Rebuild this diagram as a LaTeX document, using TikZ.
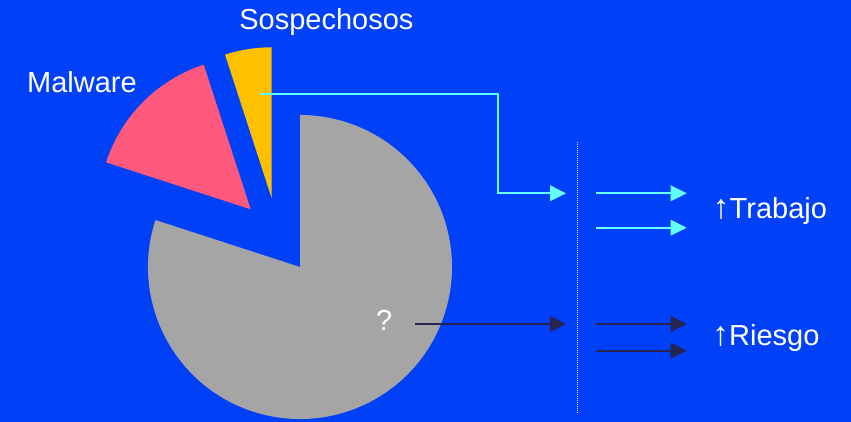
\documentclass[tikz,border=0pt]{standalone}
\usepackage{fontspec}
\setmainfont{Liberation Sans}
\usepackage{tikz}
\usetikzlibrary{calc}
\usetikzlibrary{arrows.meta}
\usetikzlibrary{positioning}
\usetikzlibrary{backgrounds}

\definecolor{bgblue}{RGB}{0,64,246}
\definecolor{slicegray}{RGB}{165,165,165}
\definecolor{slicepink}{RGB}{255,90,125}
\definecolor{sliceyellow}{RGB}{255,192,0}
\definecolor{lightcyan}{RGB}{102,255,255}
\definecolor{darknavy}{RGB}{38,36,80}

\tikzset{
    label text/.style={text=white, inner sep=0, anchor=base west,
        font=\fontsize{29}{34}\selectfont},
    flow/.style={line width=2.3pt, -{Triangle[length=16pt,width=15.5pt]}},
}

\begin{document}
\begin{tikzpicture}[x=1pt, y=1pt]
        \fill[bgblue] (0,0) rectangle (851,422);
        \useasboundingbox (0,0) rectangle (851,422);
        \begin{scope}
            \coordinate (c)   at (300,155);
            \coordinate (pk)  at (250.7,212.7);
            \coordinate (yw)  at (271.7,223.7);
            \fill[slicegray]
                (c) -- ++(162:152) arc[start angle=162, end angle=450, radius=152] -- cycle;
            \fill[slicepink]
                (pk) -- ++(108:152) arc[start angle=108, end angle=162, radius=152] -- cycle;
            \fill[sliceyellow]
                (yw) -- ++(90:151) arc[start angle=90, end angle=108, radius=151] -- cycle;
        \end{scope}
        \begin{scope}[every node/.style={label text}]
            \node (sosp) at (239.2,392.7) {Sospechosos};
            \node (malw) at (27,329.7) {Malware};
            \node (qm)   at (376,91.3) {?};
            \node (trab) at (712.5,203.7) {{\fontsize{34}{34}\selectfont ↑}Trabajo};
            \node (ries) at (712,76.3) {{\fontsize{34}{34}\selectfont ↑}Riesgo};
        \end{scope}
        \coordinate (ys)  at (260,327.7);
        \coordinate (bd)  at (498,327.7);
        \coordinate (ti)  at (566,228.7);
        \coordinate (ta1) at (596,228.7);
        \coordinate (tb1) at (686.7,228.7);
        \coordinate (ta2) at (596,194.3);
        \coordinate (tb2) at (686.7,194.3);
        \coordinate (qs)  at (415,98);
        \coordinate (ri)  at (566,98);
        \coordinate (ra1) at (596,98);
        \coordinate (rb1) at (686.7,98);
        \coordinate (ra2) at (596,71.3);
        \coordinate (rb2) at (686.7,71.3);
        \coordinate (d1)  at (577.7,280.3);
        \coordinate (d2)  at (577.7,9);
        \draw[white!85!bgblue, line width=0.9pt, dash pattern=on 1pt off 1pt]
            (d1) -- (d2);
        \draw[lightcyan, flow]
            (ys) -- (bd) |- (ti);
        \draw[lightcyan, flow] (ta1) -- (tb1);
        \draw[lightcyan, flow] (ta2) -- (tb2);
        \draw[darknavy, flow] (qs) -- (ri);
        \draw[darknavy, flow] (ra1) -- (rb1);
        \draw[darknavy, flow] (ra2) -- (rb2);
    \end{tikzpicture}
\end{document}
